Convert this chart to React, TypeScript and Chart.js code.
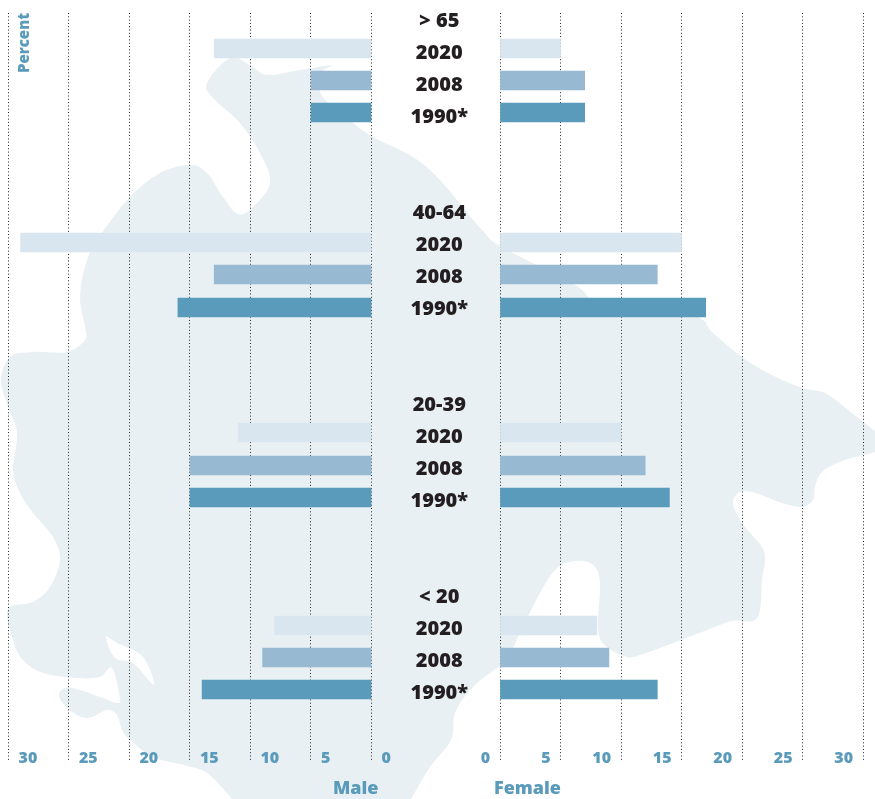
import React, { useEffect, useRef } from "react";
import { Chart, registerables } from "chart.js";

Chart.register(...registerables);

const ageGroups = ["> 65", "40-64", "20-39", "< 20"];
const years = ["2020", "2008", "1990*"];
const tickValues = [0, 5, 10, 15, 20, 25, 30];

const male2020 = [13, 29, 11, 8];
const male2008 = [5, 13, 15, 9];
const male1990 = [5, 16, 15, 14];
const female2020 = [5, 15, 10, 8];
const female2008 = [7, 13, 12, 9];
const female1990 = [7, 17, 14, 13];

const yearColors = ["#d9e5ef", "#98b9d2", "#5a9aba"];
const BLUE = "#5a9aba";
const INK = "#231f20";
const MAP = "#e9f0f4";
const FONT = '"Open Sans", sans-serif';

// Decorative backdrop outline (a country silhouette behind the chart)
const mapOutline: number[][] = [
  [207, 83], [230, 58], [250, 65], [267, 75], [300, 70], [332, 65], [320, 73], [320, 92], [333, 107], [353, 123],
  [373, 137], [413, 157], [440, 180], [482, 230], [502, 247], [575, 285], [592, 300], [620, 304], [680, 310], [703, 320], [712, 332], [742, 357],
  [768, 373], [802, 388], [825, 393], [852, 413], [885, 440], [885, 449], [845, 460], [822, 472], [815, 487],
  [813, 500], [802, 507], [782, 503], [755, 493], [740, 492], [733, 503], [742, 523], [762, 547], [765, 562],
  [762, 580], [760, 610], [753, 621], [732, 621], [702, 632], [668, 645], [640, 655], [627, 657], [607, 647],
  [598, 630], [600, 583], [593, 565], [577, 561], [557, 568], [540, 593], [520, 633], [507, 660], [490, 673],
  [470, 690], [455, 713], [451, 740], [430, 767], [411, 799], [395, 825], [380, 850], [260, 850], [245, 815], [232, 799], [207, 773], [183, 765], [153, 757],
  [130, 740], [122, 730], [117, 715], [107, 710], [88, 718], [72, 712], [59, 697], [65, 688], [80, 690],
  [100, 697], [117, 703], [120, 698], [112, 668], [100, 677], [77, 678], [43, 673], [23, 660], [13, 640],
  [8, 609], [33, 602], [50, 587], [60, 560], [53, 537], [33, 513], [20, 493], [13, 470], [17, 433], [8, 407],
  [1, 380], [10, 357], [33, 352], [67, 352], [85, 340], [85, 327], [80, 297], [87, 260], [102, 233], [130, 197],
  [160, 173], [190, 165], [207, 173], [223, 197], [238, 214], [253, 207], [270, 183], [260, 153], [240, 123],
  [213, 98],
];
const mapHole: number[][] = [[106, 637], [115, 658], [133, 663], [154, 685], [143, 657], [117, 643]];

function smoothPath(path: Path2D, pts: number[][]) {
  const n = pts.length;
  path.moveTo(pts[0][0], pts[0][1]);
  for (let i = 0; i < n; i++) {
    const p0 = pts[(i - 1 + n) % n], p1 = pts[i], p2 = pts[(i + 1) % n], p3 = pts[(i + 2) % n];
    path.bezierCurveTo(
      p1[0] + (p2[0] - p0[0]) / 6, p1[1] + (p2[1] - p0[1]) / 6,
      p2[0] - (p3[0] - p1[0]) / 6, p2[1] - (p3[1] - p1[1]) / 6,
      p2[0], p2[1]
    );
  }
  path.closePath();
}

const rowsPerGroup = 6;
const rowOf = (g: number, y: number) => g * rowsPerGroup + y + 1;
// The printed bars sit a pixel or two below their rows in the lower groups
const groupDrift = [[0, 0, 0], [0.0625, 0.0625, 0.094], [0, 0.031, 0.031], [0.031, 0.031, 0.031]];
const series = (vals: number[], y: number) =>
  vals.map((v, g) => ({ x: v, y: rowOf(g, y) + groupDrift[g][y] }));

const backdrop = {
  id: "backdrop",
  beforeDraw(chart: any) {
    const ctx = chart.ctx;
    const p = new Path2D();
    smoothPath(p, mapOutline);
    smoothPath(p, mapHole);
    ctx.save();
    ctx.fillStyle = MAP;
    ctx.fill(p, "evenodd");
    ctx.restore();
  },
};

const textLabels = {
  id: "textLabels",
  afterDraw(chart: any) {
    const { ctx, scales } = chart;
    const cx = (scales.xM.getPixelForValue(0) + scales.xF.getPixelForValue(0)) / 2 + 3.5;
    ctx.save();
    ctx.textBaseline = "middle";
    ctx.textAlign = "center";
    ctx.fillStyle = INK;
    ctx.font = `800 20px ${FONT}`;
    ageGroups.forEach((age, g) => {
      ctx.fillText(age, cx, scales.y.getPixelForValue(g * rowsPerGroup) + 4.5);
      years.forEach((yr, y) => {
        ctx.fillText(yr, cx, scales.y.getPixelForValue(rowOf(g, y)) + 4.5);
      });
    });
    ctx.fillStyle = BLUE;
    ctx.font = `800 18px ${FONT}`;
    ctx.textAlign = "right";
    ctx.fillText("Male", scales.xM.getPixelForValue(0) + 7, 789);
    ctx.textAlign = "left";
    ctx.fillText("Female", scales.xF.getPixelForValue(0) - 6, 789);
    ctx.font = `800 15px ${FONT}`;
    ctx.translate(25, 73);
    ctx.rotate(-Math.PI / 2);
    ctx.fillText("Percent", 0, 0);
    ctx.restore();
  },
};

const xScale = (reverse: boolean, align: string, labelOffset: number) => ({
  type: "linear",
  position: "bottom",
  reverse,
  min: -40.62,
  max: 30,
  border: { display: false, dash: [1, 2.3] },
  grid: {
    color: "#222222",
    lineWidth: 1,
    drawTicks: false,
    drawOnChartArea: true,
  },
  ticks: {
    autoSkip: false,
    maxRotation: 0,
    minRotation: 0,
    mirror: true,
    align,
    labelOffset,
    padding: -6,
    color: BLUE,
    font: { family: FONT, size: 16, weight: "800" },
  },
  afterBuildTicks(s: any) {
    s.ticks = tickValues.map((value) => ({ value }));
  },
  afterFit(s: any) {
    s.height = 0;
    s.paddingLeft = 0;
    s.paddingRight = 0;
  },
});

export default function App() {
  const ref = useRef<HTMLCanvasElement>(null);
  useEffect(() => {
    const make = (label: string, xAxisID: string, sets: number[][]) =>
      sets.map((vals, y) => ({
        label: `${label} ${years[y]}`,
        xAxisID,
        data: series(vals, y),
        backgroundColor: yearColors[y],
        barThickness: 19,
        grouped: false,
        borderWidth: 0,
      }));
    const chart = new Chart(ref.current as HTMLCanvasElement, {
      type: "bar",
      data: {
        datasets: [
          ...make("Male", "xM", [male2020, male2008, male1990]),
          ...make("Female", "xF", [female2020, female2008, female1990]),
        ],
      },
      options: {
        indexAxis: "y",
        responsive: false,
        animation: false,
        layout: { padding: { left: 8.5, right: 12, top: 13, bottom: 37 } },
        plugins: { legend: { display: false }, tooltip: { enabled: false }, title: { display: false } },
        scales: {
          xM: xScale(true, "start", 10),
          xF: xScale(false, "end", -10),
          y: { type: "linear", reverse: true, display: false, offset: false, min: -0.109, max: 23.297 },
        },
      },
      plugins: [backdrop, textLabels],
    } as any);
    return () => chart.destroy();
  }, []);
  return (
    <canvas
      ref={ref}
      width={875}
      height={799}
      style={{ position: "absolute", left: 0, top: 0, width: 875, height: 799 }}
    />
  );
}
